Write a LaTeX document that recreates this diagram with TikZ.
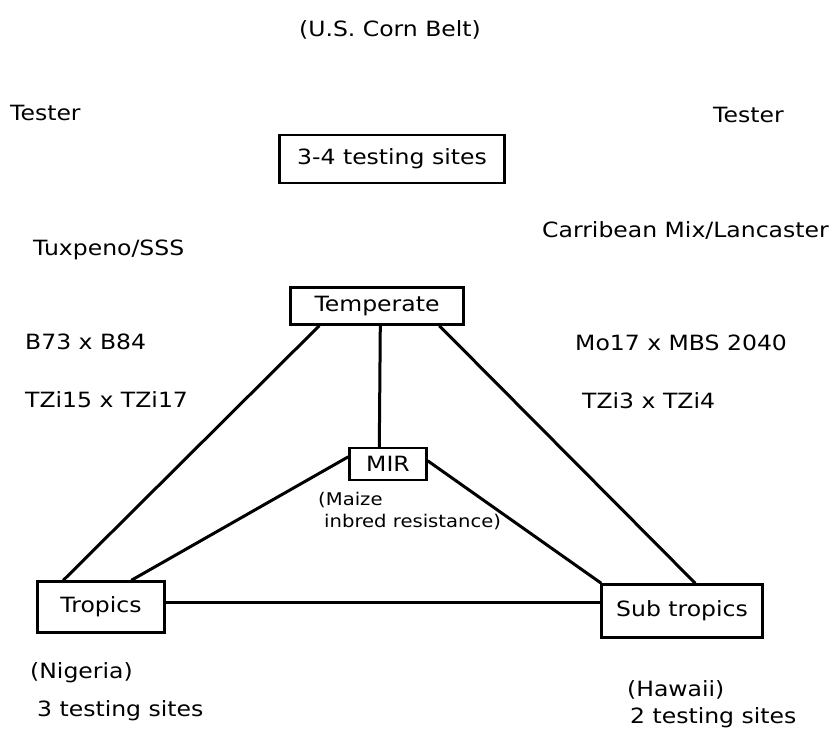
\documentclass[tikz,border=0pt]{standalone}
\usepackage{fontspec}
\setmainfont{DejaVu Sans}[FakeStretch=1.12]
\usetikzlibrary{calc}
\begin{document}
\begin{tikzpicture}[x=1pt,y=-1pt,
  every node/.style={font=\fontsize{21}{26}\selectfont, inner sep=0pt},
  lbl/.style={anchor=west},
  boxnode/.style={draw, line width=2.4pt, minimum height=#1, inner xsep=6pt},
  conn/.style={line width=3pt}]
\useasboundingbox (0,0) rectangle (839,729);
% labels
\node (cornbelt) at (390,30) {(U.S. Corn Belt)};
\node[lbl] (testerL) at (10,113) {Tester};
\node[lbl] (testerR) at (713,115) {Tester};
\node[lbl] (tux) at (33,250) {Tuxpeno/SSS};
\node[lbl] (carib) at (542,230) {Carribean Mix/Lancaster};
\node[lbl] (b73) at (25,342) {B73 x B84};
\node[lbl] (mo17) at (575,343) {Mo17 x MBS 2040};
\node[lbl] (tzi15) at (25,400) {TZi15 x TZi17};
\node[lbl] (tzi3) at (582,401) {TZi3 x TZi4};
\node[align=left, anchor=north west, font=\fontsize{17.5}{22}\selectfont] (maize) at (318,492) {(Maize\\\hspace*{6pt}inbred resistance)};
\node[lbl] (nigeria) at (30,673) {(Nigeria)};
\node[lbl] (sites3) at (37,711) {3 testing sites};
\node[lbl] (hawaii) at (627,690) {(Hawaii)};
\node[lbl] (sites2) at (630,718) {2 testing sites};
% boxes
\node[boxnode=48pt, minimum width=225pt] (sites34) at (392,159) {3-4 testing sites};
\node[boxnode=37pt, minimum width=173pt] (temp) at (377,306) {Temperate};
\node[boxnode=32pt, minimum width=77pt] (mir) at (388,464) {MIR};
\node[boxnode=51pt, minimum width=127pt] (trop) at (101,607) {Tropics};
\node[boxnode=53pt, minimum width=161pt] (sub) at (682,611) {Sub tropics};
% connectors
\draw[conn] ($(temp.south west)+(30,0)$) -- ($(trop.north west)+(27,0)$);
\draw[conn] ($(temp.south west)+(91,0)$) -- ($(mir.north west)+(31,0)$);
\draw[conn] ($(temp.south west)+(150,0)$) -- ($(sub.north west)+(95,0)$);
\draw[conn] ($(mir.north west)+(0,10)$) -- ($(trop.north west)+(95,0)$);
\draw[conn] ($(mir.north east)+(0,14)$) -- ($(sub.north west)+(1,0)$);
\draw[conn] ($(trop.north east)+(0,22)$) -- ($(sub.north west)+(0,19)$);
\end{tikzpicture}
\end{document}
